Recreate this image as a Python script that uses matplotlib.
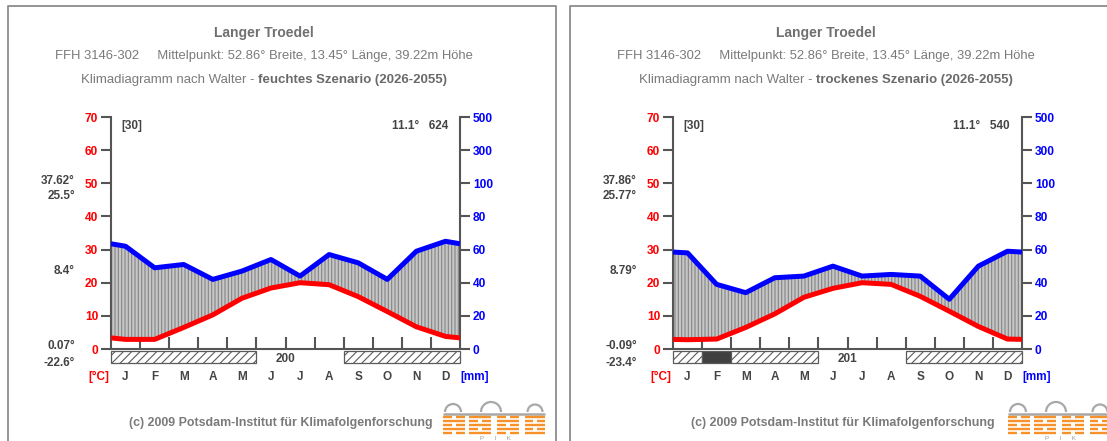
import matplotlib
matplotlib.use("Agg")
import matplotlib.pyplot as plt
import numpy as np
from matplotlib.patches import Rectangle, Arc

plt.rcParams["font.family"] = ["Liberation Sans", "DejaVu Sans"]
plt.rcParams["hatch.linewidth"] = 0.8

W, H = 1107, 441

MONTHS = ["J", "F", "M", "A", "M", "J", "J", "A", "S", "O", "N", "D"]
TEMP_TICKS = [0, 10, 20, 30, 40, 50, 60, 70]
PREC_TICKS = ["0", "20", "40", "60", "80", "100", "300", "500"]

SITE = "Langer Troedel"
SITE_INFO = "FFH 3146-302     Mittelpunkt: 52.86° Breite, 13.45° Länge, 39.22m Höhe"
PERIOD = "(2026-2055)"
YEARS = "[30]"
COPYRIGHT = "(c) 2009 Potsdam-Institut für Klimafolgenforschung"

# feuchtes Szenario
wet_temp = [2.9, 2.9, 6.5, 10.3, 15.3, 18.4, 20.0, 19.4, 15.8, 11.3, 6.7, 3.8]
wet_prec = [62, 49, 51, 42, 47, 54, 44, 57, 52, 42, 59, 65]
wet_stats = ["37.62°", "25.5°", "8.4°", "0.07°", "-22.6°"]
wet_mean, wet_total, wet_frostfree = "11.1°", "624", "200"
# h = absolute frost possible, d = mean daily minimum below zero
wet_frost = ["h", "h", "h", "h", "h", "", "", "", "h", "h", "h", "h"]

# trockenes Szenario
dry_temp = [2.8, 3.0, 6.5, 10.6, 15.6, 18.3, 20.0, 19.5, 15.9, 11.4, 6.8, 3.0]
dry_prec = [58, 39, 34, 43, 44, 50, 44, 45, 44, 30, 50, 59]
dry_stats = ["37.86°", "25.77°", "8.79°", "-0.09°", "-23.4°"]
dry_mean, dry_total, dry_frostfree = "11.1°", "540", "201"
dry_frost = ["h", "d", "h", "h", "h", "", "", "", "h", "h", "h", "h"]

DARK = "#444444"
AXIS = "#555555"


def prec_to_axis(p):
    # Walter scale: 10 degC = 20 mm up to 100 mm, compressed 1:10 above
    p = np.asarray(p, float)
    return np.where(p <= 100, p / 2, 50 + (p - 100) / 20)


def cyclic(v):
    v = np.asarray(v, float)
    edge = (v[0] + v[-1]) / 2
    return np.concatenate([[edge], v, [edge]])


def draw_logo(bg, x0):
    grey = "#a8a8a8"
    for cx, r in [(10, 8), (48, 10), (92, 7.5)]:
        bg.add_patch(Arc((x0 + cx, 412), 2 * r, 2 * r, theta1=180, theta2=360,
                         color=grey, lw=1.6))
    bg.plot([x0, x0 + 102], [413.5, 413.5], color=grey, lw=1.8, solid_capstyle="butt")
    blocks = [(0, 22), (26, 48), (54, 76), (82, 102)]
    rows = [417, 421, 425, 429, 433]
    for j, y in enumerate(rows):
        for k, (a, b) in enumerate(blocks):
            mid = (a + b) / 2
            if (j + k) % 2:
                segs = [(a, b)]
            else:
                segs = [(a, mid - 2), (mid + 2, b)]
            for s, e in segs:
                bg.plot([x0 + s, x0 + e], [y, y], color="#f7922a", lw=1.7,
                        solid_capstyle="butt")
    bg.text(x0 + 52, 439.5, "P      I      K", ha="center", va="baseline",
            fontsize=4.5, color="#999999")


def draw_panel(fig, bg, dx, scenario, temp, prec, stats, mean, total, frostfree, frost):
    # frame
    bg.plot([dx + 8, dx + 8, dx + 556, dx + 556], [H + 5, 6, 6, H + 5],
            color="#8c8c8c", lw=1.3, clip_on=False)

    # header
    cx = dx + 264
    bg.text(cx, 37.5, SITE, ha="center", va="baseline", fontsize=10,
            fontweight="bold", color="#707070")
    bg.text(cx, 59, SITE_INFO, ha="center", va="baseline", fontsize=9.4,
            color="#7a7a7a")
    t1 = bg.text(0, 82.5, "Klimadiagramm nach Walter -", ha="left", va="baseline",
                 fontsize=9.5, color="#7a7a7a")
    t2 = bg.text(0, 82.5, f"{scenario} Szenario {PERIOD}", ha="left", va="baseline",
                 fontsize=9.5, fontweight="bold", color="#6a6a6a")
    r = fig.canvas.get_renderer()
    w1 = t1.get_window_extent(r).width
    w2 = t2.get_window_extent(r).width
    gap = 4
    start = cx - (w1 + gap + w2) / 2
    t1.set_x(start)
    t2.set_x(start + w1 + gap)

    # main diagram
    ax = fig.add_axes([(111 + dx) / W, 1 - 349 / H, 349 / W, 232 / H])
    ax.set_xlim(0, 12)
    ax.set_ylim(0, 70)
    ax.set_facecolor("none")
    ax.spines["top"].set_visible(False)
    for s in ("left", "right", "bottom"):
        ax.spines[s].set_color(AXIS)
        ax.spines[s].set_linewidth(1.5)

    ax.set_yticks(TEMP_TICKS)
    ax.tick_params(axis="y", direction="out", length=7.2, width=1.5, color=AXIS,
                   labelcolor="red", labelsize=8.6, pad=2)
    for lbl in ax.get_yticklabels():
        lbl.set_fontweight("bold")
    ax.set_xticks(range(1, 12))
    ax.set_xticklabels([])
    ax.tick_params(axis="x", direction="in", length=9, width=1.5, color=AXIS)

    ax2 = ax.twinx()
    ax2.set_ylim(0, 70)
    ax2.set_yticks(TEMP_TICKS, PREC_TICKS)
    ax2.tick_params(axis="y", direction="out", length=7.2, width=1.5, color=AXIS,
                    labelcolor="blue", labelsize=8.6, pad=2)
    for lbl in ax2.get_yticklabels():
        lbl.set_fontweight("bold")
    for s in ax2.spines.values():
        s.set_visible(False)

    x = np.concatenate([[0], np.arange(12) + 0.5, [12]])
    t = cyclic(temp)
    p = cyclic(prec_to_axis(prec))
    ax.fill_between(x, t, p, where=p >= t, interpolate=True, facecolor="#c6c6c6",
                    edgecolor="#858585", hatch="|||||", linewidth=0, zorder=1)
    ax.plot(x, p, color="#0000ff", lw=3.6, solid_capstyle="butt", zorder=3)
    ax.plot(x, t, color="#ff0000", lw=3.6, solid_capstyle="butt", zorder=3)

    # frost bar below the baseline
    i = 0
    while i < 12:
        code = frost[i]
        j = i
        while j < 12 and frost[j] == code:
            j += 1
        if code == "h":
            ax.add_patch(Rectangle((i, -4.3), j - i, 3.8, facecolor="white",
                                   edgecolor="#5a5a5a", hatch="////", lw=0.9,
                                   clip_on=False))
        elif code == "d":
            ax.add_patch(Rectangle((i, -4.3), j - i, 3.8, facecolor="#404040",
                                   edgecolor="#5a5a5a", lw=0.9, clip_on=False))
        i = j
    ax.text(6, -3.85, frostfree, ha="center", va="baseline", fontsize=8.5,
            fontweight="bold", color=DARK, clip_on=False)

    for k, m in enumerate(MONTHS):
        ax.text(k + 0.5, -9.35, m, ha="center", va="baseline", fontsize=8.5,
                fontweight="bold", color=DARK)
    ax.text(-0.05, -9.35, "[°C]", ha="right", va="baseline", fontsize=8.5,
            fontweight="bold", color="red")
    ax.text(12.0, -9.35, "[mm]", ha="left", va="baseline", fontsize=8.5,
            fontweight="bold", color="blue")

    ax.text(0.34, 66.4, YEARS, ha="left", va="baseline", fontsize=8.5,
            fontweight="bold", color=DARK)
    ax.text(11.59, 66.4, f"{mean}   {total}", ha="right", va="baseline",
            fontsize=8.5, fontweight="bold", color=DARK)

    for label, y in zip(stats, [49.8, 45.2, 22.6, 0.1, -5.0]):
        ax.text(-1.24, y, label, ha="right", va="baseline", fontsize=8.5,
                fontweight="bold", color=DARK, clip_on=False)

    # footer
    bg.text(dx + 129, 426, COPYRIGHT, ha="left", va="baseline", fontsize=8.9,
            fontweight="bold", color="#7a7a7a")
    draw_logo(bg, dx + 443 + (3 if dx else 0))


fig = plt.figure(figsize=(W / 100, H / 100), dpi=100)
bg = fig.add_axes([0, 0, 1, 1])
bg.set_xlim(0, W)
bg.set_ylim(H, 0)
bg.axis("off")

draw_panel(fig, bg, 0, "feuchtes", wet_temp, wet_prec, wet_stats,
           wet_mean, wet_total, wet_frostfree, wet_frost)
draw_panel(fig, bg, 562, "trockenes", dry_temp, dry_prec, dry_stats,
           dry_mean, dry_total, dry_frostfree, dry_frost)

fig.savefig("out.png", dpi=100, facecolor="white")
